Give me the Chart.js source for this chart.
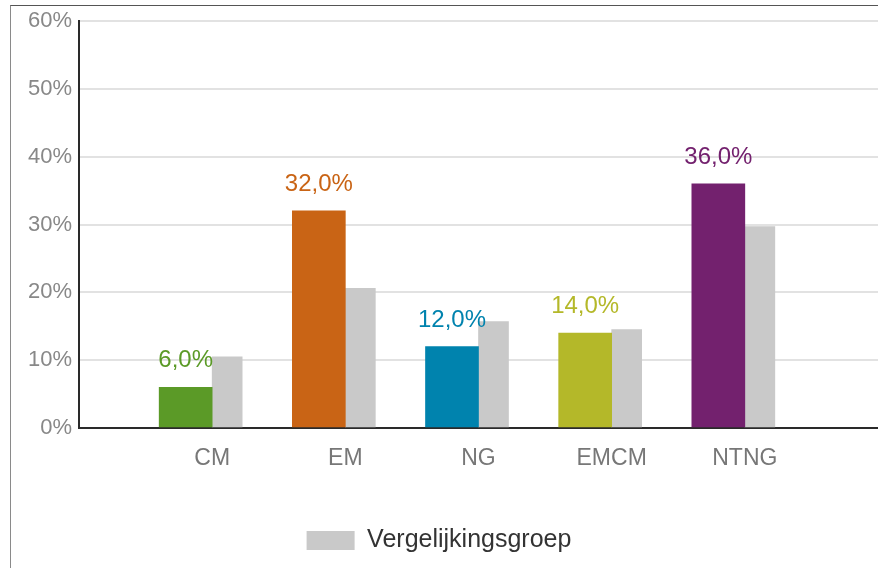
<!DOCTYPE html>
<html>
<head>
<meta charset="utf-8">
<script src="https://cdn.jsdelivr.net/npm/chart.js@4/dist/chart.umd.min.js"></script>
<style>
  html, body { margin: 0; padding: 0; background: #fff; }
  #wrap { position: relative; width: 878px; height: 568px; }
  #frame { position: absolute; left: 10px; top: 5px; right: 0; bottom: 0;
           border-left: 1px solid #8a8a8a; border-top: 1px solid #555; pointer-events: none; }
</style>
</head>
<body>
<div id="wrap">
  <canvas id="c" width="878" height="568"></canvas>
  <div id="frame"></div>
</div>
<script>
const categories = ['', 'CM', 'EM', 'NG', 'EMCM', 'NTNG', ''];
const ownValues = [null, 6.0, 32.0, 12.0, 14.0, 36.0, null];
const compareValues = [null, 10.5, 20.6, 15.7, 14.5, 29.7, null];
const ownColors = ['#000', '#5b9a27', '#c96415', '#0083ae', '#b4b829', '#73216e', '#000'];
const compareLabel = 'Vergelijkingsgroep';
const yTicks = [0, 10, 20, 30, 40, 50, 60];

const FONT = '"Liberation Sans", Arial, sans-serif';

const valueLabels = {
  id: 'valueLabels',
  afterDatasetsDraw(chart) {
    const ctx = chart.ctx;
    const meta = chart.getDatasetMeta(0);
    ctx.save();
    ctx.font = '24px ' + FONT;
    ctx.textAlign = 'center';
    ctx.textBaseline = 'alphabetic';
    meta.data.forEach((bar, i) => {
      const v = ownValues[i];
      if (v === null) return;
      ctx.fillStyle = ownColors[i];
      ctx.fillText(v.toFixed(1).replace('.', ',') + '%', bar.x, bar.y - 20);
    });
    ctx.restore();
  }
};

new Chart(document.getElementById('c'), {
  type: 'bar',
  data: {
    labels: categories,
    datasets: [
      {
        label: 'own',
        data: ownValues,
        backgroundColor: ownColors,
        barThickness: 53,
        borderWidth: 0
      },
      {
        label: compareLabel,
        data: compareValues,
        backgroundColor: '#c9c9c9',
        barThickness: 30,
        borderWidth: 0
      }
    ]
  },
  options: {
    responsive: false,
    animation: false,
    devicePixelRatio: 1,
    layout: { padding: { left: 0, right: 0, top: 21, bottom: 5 } },
    scales: {
      x: {
        offset: false,
        grid: { display: false, drawTicks: false },
        border: { display: true, color: '#2a2a2a', width: 2 },
        ticks: { color: '#777', font: { size: 23, family: FONT }, padding: 17,
                 autoSkip: false, maxRotation: 0 },
        afterFit(scale) { scale.height = 90; scale.paddingLeft = 0; scale.paddingRight = 0; }
      },
      y: {
        min: 0, max: 60,
        afterBuildTicks(scale) { scale.ticks = yTicks.map(v => ({ value: v })); },
        grid: { color: '#e2e2e2', lineWidth: 2, drawTicks: false },
        border: { display: true, color: '#2a2a2a', width: 2 },
        ticks: { color: '#888', font: { size: 22, family: FONT }, padding: 7,
                 callback: v => v + '%' },
        afterFit(scale) { scale.width = 79; }
      }
    },
    plugins: {
      legend: {
        position: 'bottom',
        labels: {
          filter: item => item.datasetIndex === 1,
          boxWidth: 48, boxHeight: 19,
          color: '#333',
          font: { size: 25, family: FONT },
          padding: 10
        }
      },
      tooltip: { enabled: false }
    }
  },
  plugins: [valueLabels]
});
</script>
</body>
</html>
